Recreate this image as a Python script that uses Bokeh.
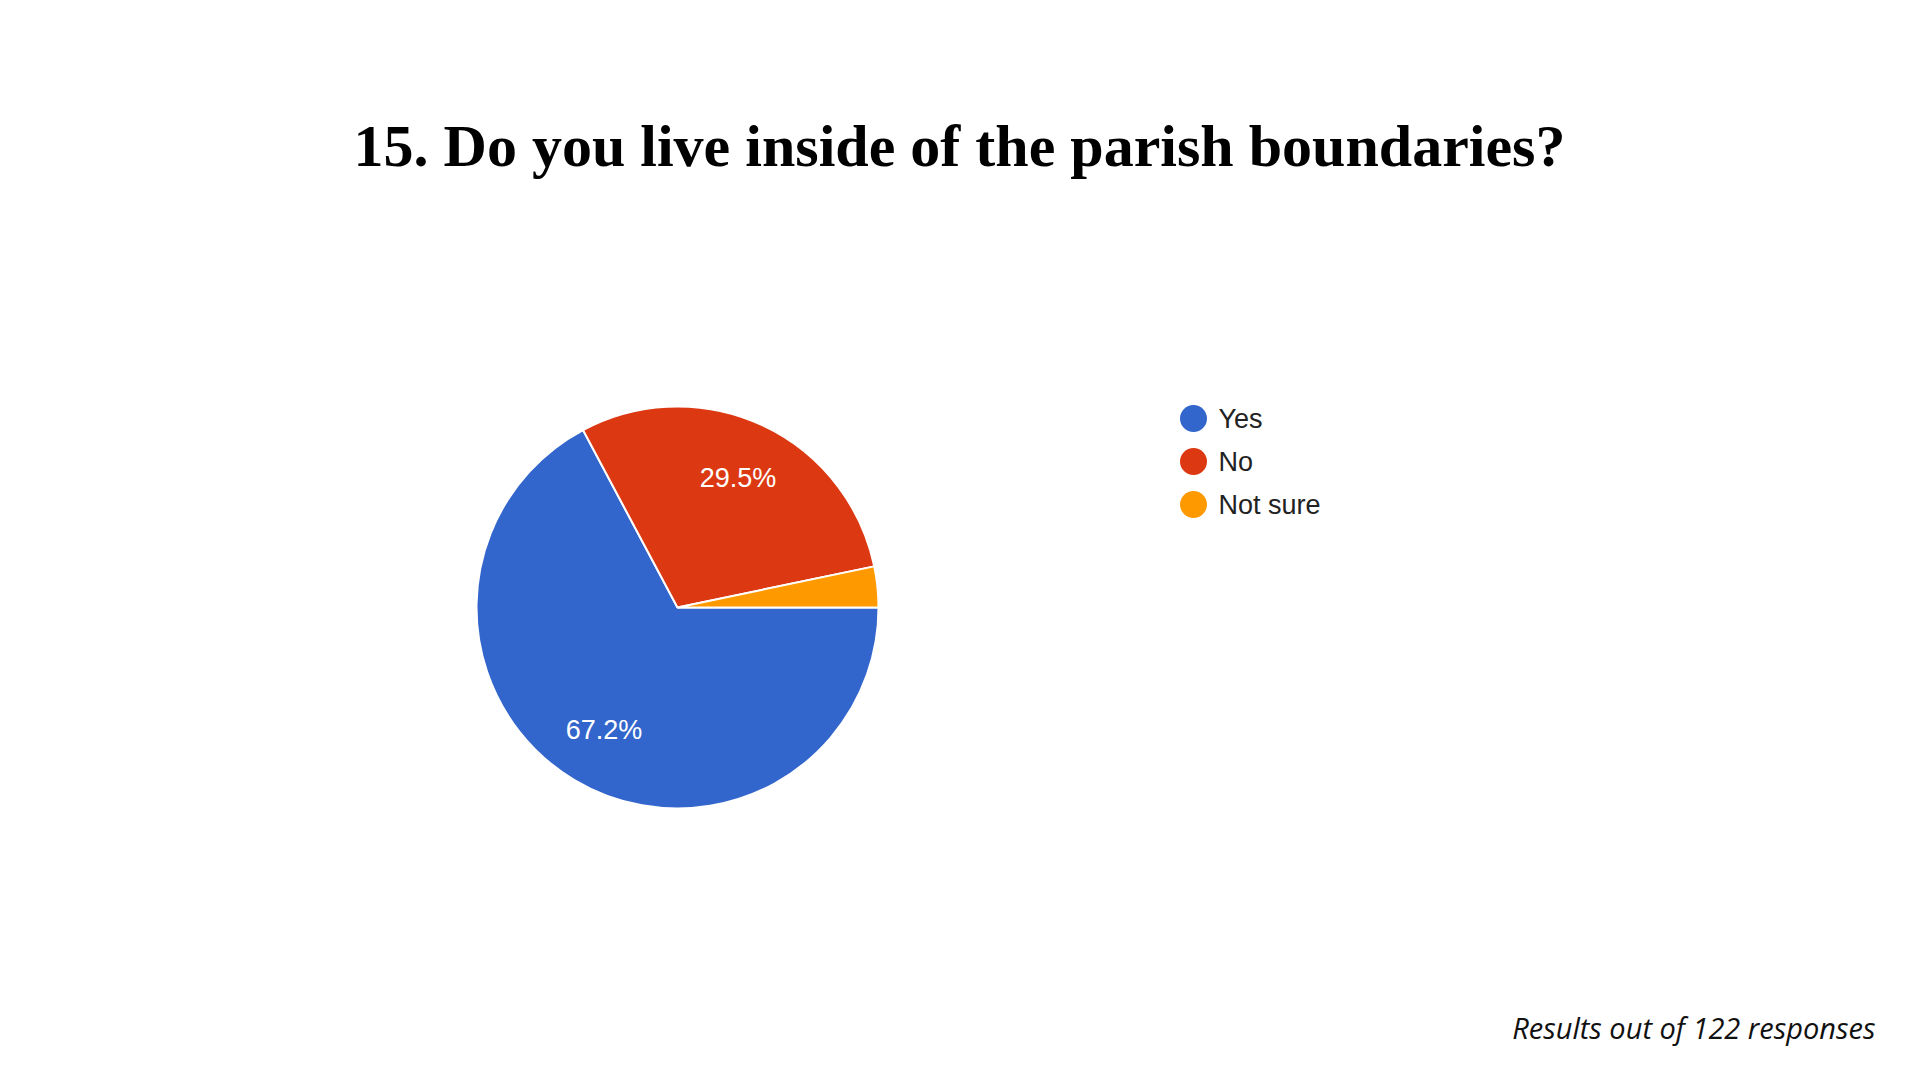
import math
from bokeh.plotting import figure
from bokeh.models import Range1d, ColumnDataSource
from bokeh.core.properties import value
from bokeh.embed import file_html
from bokeh.resources import INLINE

# ---- data ----
categories = ["Yes", "No", "Not sure"]
counts = [82, 36, 4]
pct_labels = ["67.2%", "29.5%", ""]
colors = ["#3366cc", "#dc3912", "#ff9900"]
title_text = "15. Do you live inside of the parish boundaries?"
footer_text = "Results out of 122 responses"

W, H = 1904, 1064
p = figure(width=W, height=H, output_backend="svg", toolbar_location=None,
           x_range=Range1d(0, W), y_range=Range1d(0, H), min_border=0)
p.axis.visible = False
p.grid.visible = False
p.outline_line_color = None
p.background_fill_color = "white"
p.border_fill_color = "white"

def sy(y):  # screen y -> data y
    return H - y
def sx(x):
    return x

cx, cy, R = sx(677), sy(607), 201
total = sum(counts)
starts, ends, mids = [], [], []
acc = 0.0
for c in counts:
    a0 = -2 * math.pi * acc / total
    acc += c
    a1 = -2 * math.pi * acc / total
    starts.append(a0); ends.append(a1); mids.append((a0 + a1) / 2)

src = ColumnDataSource(dict(start=starts, end=ends, color=colors))
p.wedge(x=cx, y=cy, radius=R, start_angle="start", end_angle="end",
        direction="clock", fill_color="color", line_color="white",
        line_width=2, source=src)

lab = ColumnDataSource(dict(
    x=[cx + 0.71 * R * math.cos(m) for m in mids],
    y=[cy + 0.71 * R * math.sin(m) for m in mids],
    t=pct_labels))
p.text(x="x", y="y", text="t", source=lab, text_color="white",
       text_font=value("Liberation Sans"), text_font_size="27px",
       text_align="center", text_baseline="middle")

# legend
leg_y = [sy(418) - i * 43 for i in range(len(categories))]
p.scatter(x=[sx(1193)] * len(categories), y=leg_y, size=27,
          fill_color=colors, line_color=None)
p.text(x=[sx(1218)] * len(categories), y=leg_y, text=categories,
       text_color="#222222", text_font=value("Liberation Sans"),
       text_font_size="27px", text_baseline="middle", text_align="left")

# title
p.text(x=[sx(959)], y=[sy(145)], text=[title_text], text_color="black",
       text_font=value("Liberation Serif"), text_font_style="bold",
       text_font_size="60px", text_align="center", text_baseline="alphabetic")

# footer
p.text(x=[sx(1875)], y=[sy(1027)], text=[footer_text], text_color="#111111",
       text_font=value("Open Sans"), text_font_style="italic",
       text_font_size="29px", text_align="right", text_baseline="alphabetic")

open("out.html", "w").write(file_html(p, INLINE))
